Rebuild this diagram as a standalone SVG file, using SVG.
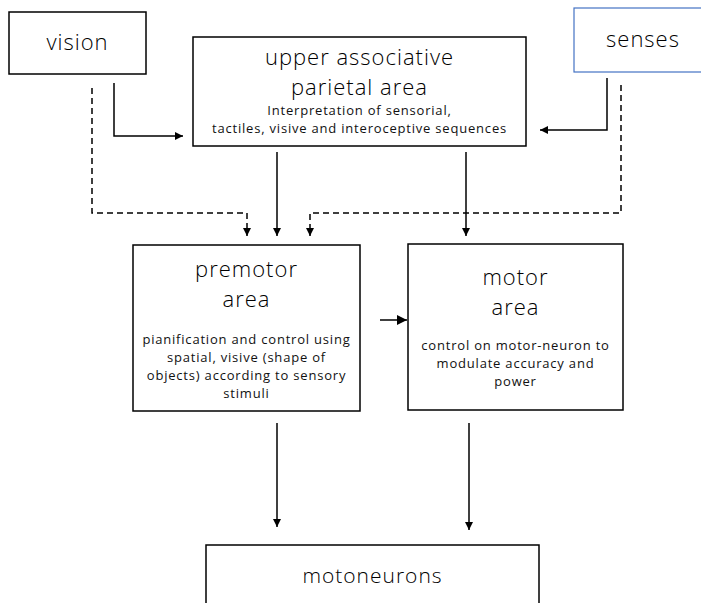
<svg xmlns="http://www.w3.org/2000/svg" width="701" height="603" viewBox="0 0 701 603">
<style>
.box{fill:#fff;stroke:#000;stroke-width:1.5}
.big{font-family:"Open Sans","Noto Sans",sans-serif;font-weight:300;font-size:22px;letter-spacing:1px;fill:#000;text-anchor:middle}
.sm{font-family:"Open Sans","Noto Sans",sans-serif;font-weight:400;font-size:13px;letter-spacing:0.8px;fill:#111;text-anchor:middle}
.ln{fill:none;stroke:#000;stroke-width:1.5}
.dash{fill:none;stroke:#000;stroke-width:1.5;stroke-dasharray:6,4}
</style>
<defs>
<marker id="ah" viewBox="0 0 10 10" refX="10" refY="5" markerWidth="8" markerHeight="8" markerUnits="userSpaceOnUse" orient="auto"><path d="M0,0 L10,5 L0,10 z" fill="#000"/></marker>
<marker id="ah2" viewBox="0 0 10 10" refX="10" refY="5" markerWidth="10" markerHeight="10" markerUnits="userSpaceOnUse" orient="auto"><path d="M0,0 L10,5 L0,10 z" fill="#000"/></marker>
</defs>
<g id="vision"><rect class="box" x="9" y="12" width="137" height="62"/><text class="big" x="77.5" y="50">vision</text></g>
<g id="senses"><rect x="574" y="8" width="140" height="64" fill="#fff" stroke="#4472c4" stroke-width="1.2"/><text class="big" x="643" y="47">senses</text></g>
<g id="parietal"><rect class="box" x="193" y="37" width="333" height="109"/>
<text class="big" x="359.5" y="65">upper associative</text>
<text class="big" x="359.5" y="95">parietal area</text>
<text class="sm" x="359.5" y="115">Interpretation of sensorial,</text>
<text class="sm" x="359.5" y="133">tactiles, visive and interoceptive sequences</text></g>
<g id="premotor"><rect class="box" x="133" y="245" width="227" height="166"/>
<text class="big" x="246.5" y="277">premotor</text>
<text class="big" x="246.5" y="307">area</text>
<text class="sm" x="246.5" y="344">pianification and control using</text>
<text class="sm" x="246.5" y="362">spatial, visive (shape of</text>
<text class="sm" x="246.5" y="380">objects) according to sensory</text>
<text class="sm" x="246.5" y="398">stimuli</text></g>
<g id="motor"><rect class="box" x="408" y="244" width="215" height="166"/>
<text class="big" x="515.5" y="285">motor</text>
<text class="big" x="515.5" y="315">area</text>
<text class="sm" x="515.5" y="350">control on motor-neuron to</text>
<text class="sm" x="515.5" y="368">modulate accuracy and</text>
<text class="sm" x="515.5" y="386">power</text></g>
<g id="motoneurons"><rect class="box" x="206" y="545" width="333" height="70"/>
<text class="big" x="372.5" y="583" style="font-size:21px">motoneurons</text></g>
<g id="connectors">
<polyline class="ln" points="114,83 114,136 183,136" marker-end="url(#ah)"/>
<polyline class="ln" points="607,78 607,130 540,130" marker-end="url(#ah)"/>
<polyline class="dash" points="92,88 92,213 247,213 247,236" marker-end="url(#ah)"/>
<polyline class="dash" points="621,85 621,213 310,213 310,236" marker-end="url(#ah)"/>
<line class="ln" x1="277" y1="152" x2="277" y2="236" stroke-width="2" marker-end="url(#ah)"/>
<line class="ln" x1="466" y1="152" x2="466" y2="236" stroke-width="2" marker-end="url(#ah)"/>
<line class="ln" x1="380" y1="320" x2="407" y2="320" stroke-width="3" marker-end="url(#ah2)"/>
<line class="ln" x1="277" y1="423" x2="277" y2="527" stroke-width="2" marker-end="url(#ah)"/>
<line class="ln" x1="469" y1="423" x2="469" y2="530" stroke-width="2" marker-end="url(#ah)"/>
</g>
</svg>
